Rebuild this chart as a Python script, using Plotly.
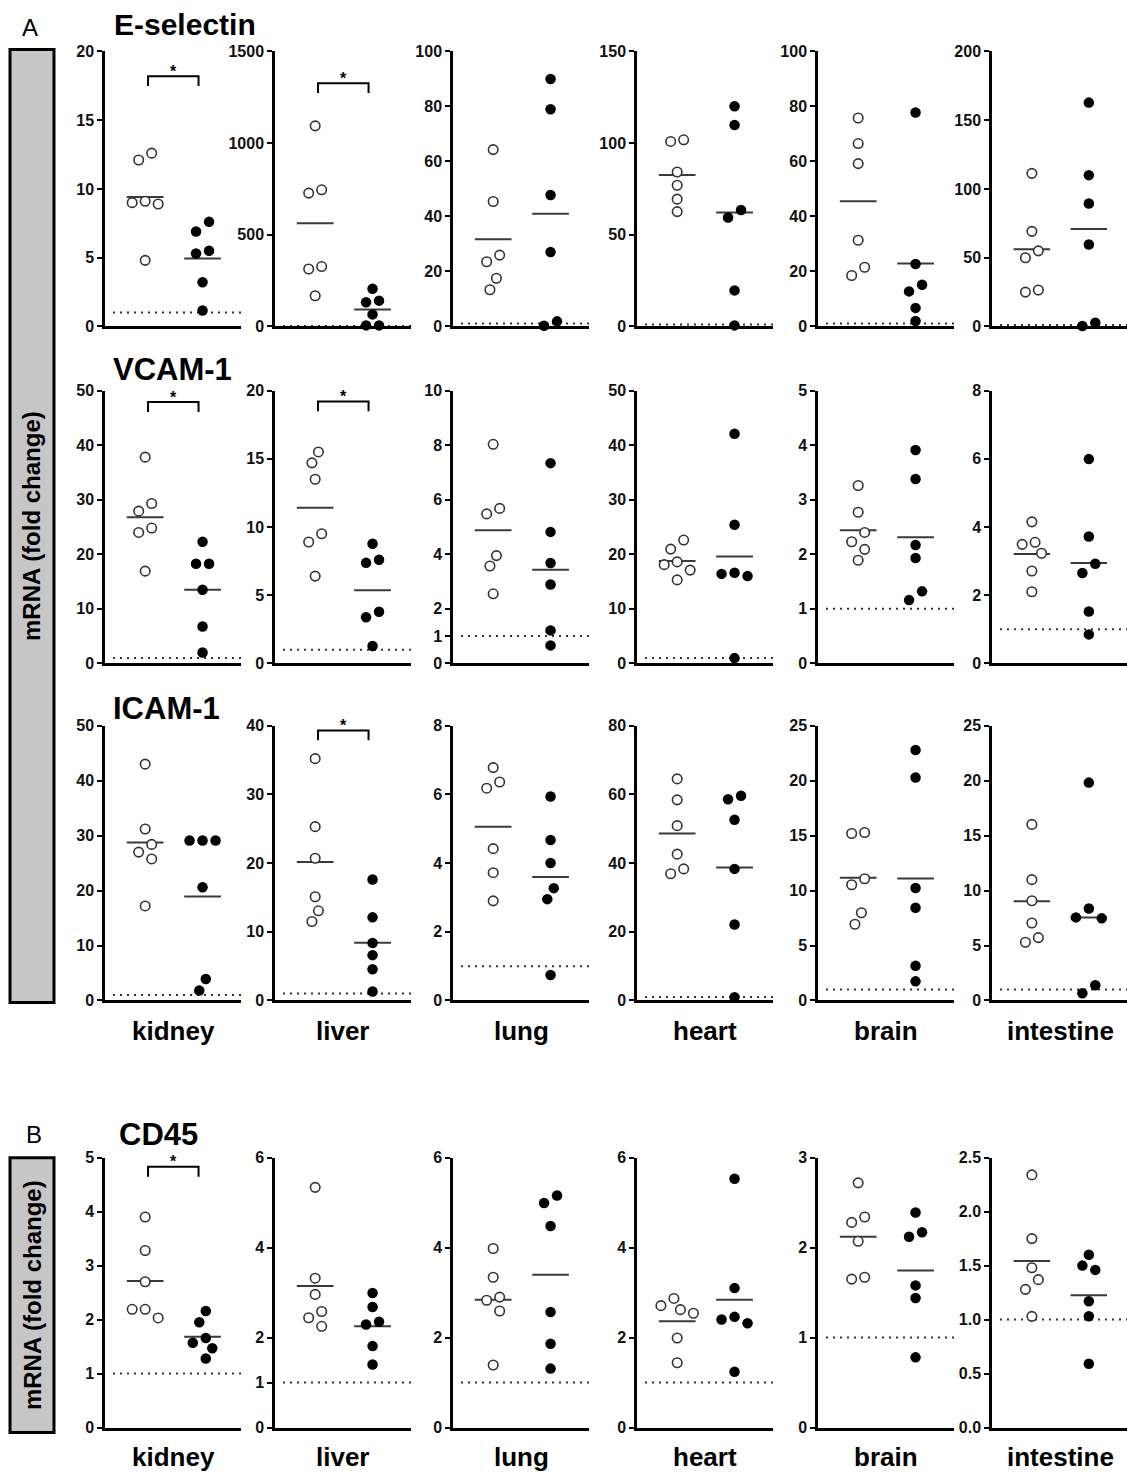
import numpy as np
import plotly.graph_objects as go

# ---------------- data ----------------
organs = ["kidney", "liver", "lung", "heart", "brain", "intestine"]
genes = ["E-selectin", "VCAM-1", "ICAM-1", "CD45"]

# open circles (group 1) and filled circles (group 2), one list per organ
esel_open = [
    [12.1, 12.6, 9.0, 8.9, 9.1, 4.8],
    [1094, 727, 745, 326, 313, 167],
    [64.3, 45.4, 25.9, 23.5, 17.5, 13.3],
    [100.9, 101.8, 84.2, 77.0, 69.4, 62.6],
    [75.8, 66.5, 59.2, 31.3, 21.5, 18.5],
    [111.3, 69.1, 54.9, 49.9, 26.4, 24.9],
]
esel_filled = [
    [7.6, 6.9, 5.5, 5.3, 3.2, 1.15],
    [205, 140, 131, 65, 5, 5],
    [90.0, 79.0, 47.8, 27.0, 0.2, 1.8],
    [120.1, 109.9, 63.5, 59.4, 19.6, 0.5],
    [77.8, 22.7, 15.1, 12.7, 6.7, 1.9],
    [162.8, 110.0, 89.4, 59.5, 0.2, 2.6],
]
vcam_open = [
    [37.8, 29.3, 27.9, 24.8, 24.0, 16.9],
    [15.5, 14.7, 13.5, 9.5, 8.9, 6.4],
    [8.03, 5.48, 5.68, 3.95, 3.57, 2.55],
    [20.95, 22.6, 18.6, 18.1, 17.1, 15.3],
    [3.26, 2.77, 2.40, 2.23, 2.09, 1.89],
    [4.15, 3.55, 3.49, 3.23, 2.71, 2.10],
]
vcam_filled = [
    [22.3, 18.25, 18.25, 13.5, 6.75, 2.0],
    [8.77, 7.37, 7.6, 3.79, 3.38, 1.28],
    [7.34, 4.82, 3.68, 2.89, 1.21, 0.66],
    [42.1, 25.4, 16.4, 16.0, 16.6, 0.97],
    [3.91, 3.38, 2.17, 1.93, 1.32, 1.16],
    [5.99, 3.72, 2.92, 2.65, 1.52, 0.85],
]
icam_open = [
    [43.0, 31.2, 28.4, 27.0, 25.75, 17.2],
    [35.2, 25.3, 20.7, 15.1, 13.05, 11.5],
    [6.78, 6.36, 6.18, 4.42, 3.72, 2.9],
    [64.5, 58.4, 50.9, 42.6, 38.3, 36.9],
    [15.19, 15.28, 11.07, 10.53, 7.98, 6.93],
    [16.02, 10.99, 9.07, 7.05, 5.72, 5.3],
]
icam_filled = [
    [29.1, 29.1, 29.1, 20.6, 3.9, 1.8],
    [17.6, 12.1, 8.37, 6.6, 4.55, 1.3],
    [5.94, 4.67, 4.0, 3.27, 2.95, 0.74],
    [58.6, 59.6, 52.6, 38.3, 22.1, 0.96],
    [22.78, 20.29, 10.23, 8.43, 3.15, 1.74],
    [19.82, 8.37, 7.56, 7.47, 1.38, 0.66],
]
cd45_open = [
    [3.90, 3.28, 2.70, 2.19, 2.19, 2.03],
    [5.34, 3.32, 2.96, 2.58, 2.44, 2.25],
    [3.98, 3.34, 2.83, 2.90, 2.59, 1.39],
    [2.87, 2.71, 2.62, 2.54, 1.99, 1.44],
    [2.72, 2.34, 2.28, 2.07, 1.67, 1.65],
    [2.34, 1.75, 1.48, 1.37, 1.28, 1.03],
]
cd45_filled = [
    [2.16, 1.95, 1.66, 1.57, 1.47, 1.28],
    [2.99, 2.68, 2.29, 2.35, 1.81, 1.40],
    [4.99, 5.16, 4.48, 2.57, 1.86, 1.31],
    [5.53, 3.10, 2.46, 2.40, 2.32, 1.24],
    [2.39, 2.17, 2.12, 1.58, 1.44, 0.78],
    [1.60, 1.50, 1.46, 1.17, 1.03, 0.59],
]

# y-axis tick values per panel (top tick = axis maximum)
esel_ticks = [[0, 5, 10, 15, 20], [0, 500, 1000, 1500], [0, 20, 40, 60, 80, 100],
              [0, 50, 100, 150], [0, 20, 40, 60, 80, 100], [0, 50, 100, 150, 200]]
vcam_ticks = [[0, 10, 20, 30, 40, 50], [0, 5, 10, 15, 20], [0, 1, 2, 4, 6, 8, 10],
              [0, 10, 20, 30, 40, 50], [0, 1, 2, 3, 4, 5], [0, 2, 4, 6, 8]]
icam_ticks = [[0, 10, 20, 30, 40, 50], [0, 10, 20, 30, 40], [0, 2, 4, 6, 8],
              [0, 20, 40, 60, 80], [0, 5, 10, 15, 20, 25], [0, 5, 10, 15, 20, 25]]
cd45_ticks = [[0, 1, 2, 3, 4, 5], [0, 1, 2, 4, 6], [0, 2, 4, 6],
              [0, 2, 4, 6], [0, 1, 2, 3], [0.0, 0.5, 1.0, 1.5, 2.0, 2.5]]

# significance brackets: (gene, organ, bracket height in data units)
sig_brackets = [("E-selectin", "kidney", 18.2), ("E-selectin", "liver", 1327),
                ("VCAM-1", "kidney", 47.9), ("VCAM-1", "liver", 19.2),
                ("ICAM-1", "liver", 39.3), ("CD45", "kidney", 4.83)]

baseline = 1.0  # fold change = 1 reference

open_sets = [esel_open, vcam_open, icam_open, cd45_open]
filled_sets = [esel_filled, vcam_filled, icam_filled, cd45_filled]
tick_sets = [esel_ticks, vcam_ticks, icam_ticks, cd45_ticks]

# ---------------- layout geometry (pixels) ----------------
W, H = 1127, 1481
col_left = [105, 275, 453, 637, 818, 992]
panel_w = 136
row_top = [44, 387, 726, 1163]
row_bot = [322, 663, 1004, 1436]
XR = [0.3, 2.67]
x_px_per_unit = panel_w / (XR[1] - XR[0])
FONT = "Liberation Sans, Arial, sans-serif"


def px2x(px):
    return px / W


def px2y(py):
    return 1 - py / H


def swarm(vals, ppu, step=6.5, mind=12.0):
    vals = np.asarray(vals, float)
    ys = vals * ppu
    order = np.argsort(-vals, kind="stable")
    cands = [0.0]
    for k in range(1, 14):
        cands += [-k * step, k * step]
    offs = np.zeros(len(vals))
    placed = []
    for i in order:
        for c in cands:
            if all((c - px) ** 2 + (ys[i] - py) ** 2 >= mind ** 2 for px, py in placed):
                offs[i] = c
                break
        placed.append((offs[i], ys[i]))
    # centre each vertically-connected cluster
    srt = list(np.argsort(ys))
    clusters, cur = [], [srt[0]]
    for a, b in zip(srt[:-1], srt[1:]):
        if ys[b] - ys[a] < mind:
            cur.append(b)
        else:
            clusters.append(cur)
            cur = [b]
    clusters.append(cur)
    for cl in clusters:
        o = offs[cl]
        offs[cl] = o - (o.min() + o.max()) / 2
    return offs / x_px_per_unit


fig = go.Figure()
layout_axes = {}
shapes = []
annotations = []

for r, gene in enumerate(genes):
    for c, organ in enumerate(organs):
        n = r * 6 + c + 1
        xa = "x" if n == 1 else f"x{n}"
        ya = "y" if n == 1 else f"y{n}"
        ticks = tick_sets[r][c]
        ymax = ticks[-1]
        ph = row_bot[r] - row_top[r]
        ppu = ph / ymax
        left = col_left[c]
        right = min(left + panel_w, W)
        layout_axes["xaxis" if n == 1 else f"xaxis{n}"] = dict(
            domain=[px2x(left), px2x(right)], range=XR, anchor=ya,
            showline=True, linewidth=2.5, linecolor="black", showticklabels=False,
            ticks="", showgrid=False, zeroline=False, fixedrange=True)
        if any(float(t) != int(t) for t in ticks):
            ttext = [f"<b>{t:.1f}</b>" for t in ticks]
        else:
            ttext = [f"<b>{int(t)}</b>" for t in ticks]
        layout_axes["yaxis" if n == 1 else f"yaxis{n}"] = dict(
            domain=[px2y(row_bot[r]), px2y(row_top[r])], range=[0, ymax], anchor=xa,
            tickvals=ticks, ticktext=ttext, ticks="outside", ticklen=5, tickwidth=2,
            tickcolor="black", showline=True, linewidth=2.5, linecolor="black",
            showgrid=False, zeroline=False, fixedrange=True,
            tickfont=dict(family=FONT, size=16, color="#111111"))

        # reference dotted line at fold change 1
        shapes.append(dict(type="line", xref=xa, yref=ya, x0=0.44, x1=XR[1],
                           y0=baseline, y1=baseline, layer="below",
                           line=dict(color="#333333", width=2, dash="2px,5px")))

        for g, (vals, filled) in enumerate([(open_sets[r][c], False), (filled_sets[r][c], True)]):
            gx = g + 1
            m = float(np.mean(vals))
            fig.add_trace(go.Scatter(x=[gx - 0.32, gx + 0.32], y=[m, m], mode="lines",
                                     line=dict(color="#3a3a3a", width=2), xaxis=xa, yaxis=ya,
                                     showlegend=False, hoverinfo="skip", cliponaxis=False))
            offs = swarm(vals, ppu)
            if filled:
                mk = dict(symbol="circle", size=10.5, color="black", line=dict(width=0))
            else:
                mk = dict(symbol="circle", size=9.5, color="white",
                          line=dict(color="#333333", width=1.6))
            fig.add_trace(go.Scatter(x=gx + offs, y=vals, mode="markers", marker=mk,
                                     xaxis=xa, yaxis=ya, showlegend=False, cliponaxis=False))

        for sg, so, yb in sig_brackets:
            if sg == gene and so == organ:
                leg = 10 / ppu
                fig.add_trace(go.Scatter(x=[1.05, 1.05, 1.93, 1.93], y=[yb - leg, yb, yb, yb - leg],
                                         mode="lines", line=dict(color="black", width=2),
                                         xaxis=xa, yaxis=ya, showlegend=False,
                                         hoverinfo="skip", cliponaxis=False))
                annotations.append(dict(x=1.49, y=yb, xref=xa, yref=ya, text="<b>*</b>",
                                        showarrow=False, yanchor="middle", yshift=5,
                                        font=dict(family=FONT, size=16, color="black")))

# gene titles: (left x, centre y, font size)
title_pos = [(113, 17, 30), (112, 366, 31), (112, 709, 31), (118, 1140, 31)]
for gene, (tx, ty, fs) in zip(genes, title_pos):
    annotations.append(dict(x=px2x(tx), y=px2y(ty), xref="paper", yref="paper",
                            text=f"<b>{gene}</b>", showarrow=False, xanchor="left",
                            yanchor="middle", borderpad=0,
                            font=dict(family=FONT, size=fs, color="black")))

# organ labels under rows 3 and 4
for ly in (1035, 1466):
    for c, organ in enumerate(organs):
        cx = col_left[c] + panel_w / 2
        annotations.append(dict(x=px2x(cx), y=px2y(ly), xref="paper", yref="paper",
                                text=f"<b>{organ}</b>", showarrow=False, xanchor="center",
                                yanchor="middle", font=dict(family=FONT, size=26, color="black")))

# panel letters
for lab, (lx, ly) in [("A", (30, 20)), ("B", (34, 1140))]:
    annotations.append(dict(x=px2x(lx), y=px2y(ly), xref="paper", yref="paper", text=lab,
                            showarrow=False, xanchor="center", yanchor="middle",
                            font=dict(family=FONT, size=24, color="black")))

# grey y-title boxes
for (y0, y1) in [(42, 1006), (1163, 1441)]:
    shapes.append(dict(type="rect", xref="paper", yref="paper", x0=px2x(10), x1=px2x(54),
                       y0=px2y(y1), y1=px2y(y0), fillcolor="#c6c6c6",
                       line=dict(color="black", width=3), layer="above"))
    annotations.append(dict(x=px2x(32), y=px2y((y0 + y1) / 2), xref="paper", yref="paper",
                            text="<b>mRNA (fold change)</b>", textangle=-90, showarrow=False,
                            xanchor="center", yanchor="middle",
                            font=dict(family=FONT, size=24, color="black")))

fig.update_layout(width=W, height=H, margin=dict(l=0, r=0, t=0, b=0),
                  paper_bgcolor="white", plot_bgcolor="white", showlegend=False,
                  shapes=shapes, annotations=annotations, **layout_axes)

fig.write_html("out.html", config={"displayModeBar": False},
               post_script="document.body.style.margin='0px';document.body.style.padding='0px';"
                           "document.documentElement.style.overflow='hidden';")
